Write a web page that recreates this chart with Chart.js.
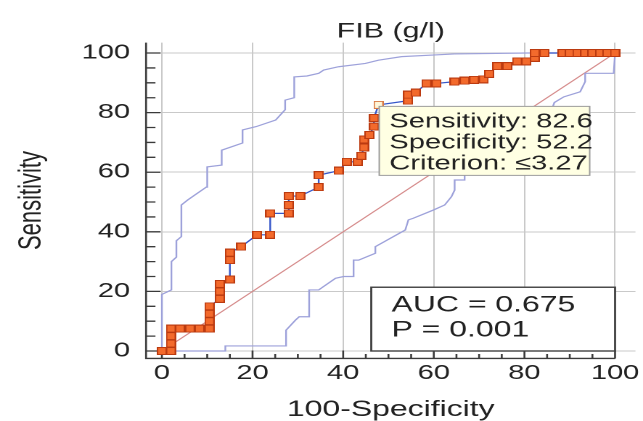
<!DOCTYPE html>
<html><head><meta charset="utf-8">
<script src="https://cdn.jsdelivr.net/npm/chart.js@4.4.1/dist/chart.umd.min.js"></script>
<style>html,body{margin:0;padding:0;background:#fff;overflow:hidden}</style>
</head><body>
<canvas id="c" width="443" height="421" style="width:643px;height:421px;display:block"></canvas>
<script>
// ---------- data ----------
const chartTitle = 'FIB (g/l)';
const xTitle = '100-Specificity';
const yTitle = 'Sensitivity';
const tickValues = [0, 20, 40, 60, 80, 100];

// ROC curve: 100-Specificity (x) and Sensitivity (y)
const rocX = [0,2,2,2,2,4,6.2,8.3,10.5,10.5,10.5,10.5,12.8,12.8,12.8,15,15,15,17.5,21,23.9,23.9,28,28,28,30.5,34.6,34.6,39,40.8,43.2,44,44.6,44.6,45.8,46.8,46.8,47.8,54.3,54.3,56,58.4,60.6,64.6,66.8,68.9,71,72.2,74,76.2,78.4,80.4,82.3,82.3,84.4,88.4,90,91.7,93.4,95,96.7,98.3,100];
const rocY = [0,0,2.5,5,7.5,7.5,7.5,7.5,7.5,10,12.5,15,17.5,20,22.5,24,30.5,33,35,39,39,46.2,46.2,49,52,52,55,59,60.5,63.5,63.5,65.5,68.3,71,72.5,75.3,78.2,82.6,84,86,86.7,89.8,89.8,90.4,90.7,91,91.2,93,95.6,95.6,97.2,97.2,98.4,100,100,100,100,100,100,100,100,100,100];

// 95% confidence bounds
const upperX = [0,0,2.1,2.1,3.2,3.2,4.3,4.3,5.7,9.8,10,13.2,13.2,17.8,17.8,20.8,25.1,27.2,27.2,29.2,29.2,32,34.6,35.7,39,44.9,47.8,52.9,64.6,80.7,100];
const upperY = [0,19,20.5,30,31.5,37,38.4,49,50.7,55,61.8,62.4,67.4,69.8,74.2,75.3,77.5,81,84.2,85,92,92.3,93.2,94.3,95.4,96.5,97.6,98.8,99.7,100,100];
const lowerX = [0,14,14,27.4,27.4,29.5,30.3,32.5,32.5,34.6,38.3,40.1,42.3,42.3,43.4,47.1,47.1,53.7,54.4,55.4,59.9,62.4,63.9,64.6,64.6,66.8,66.8,72,78,81.4,85.8,86.6,88.7,92.3,93.4,93.4,99.7,100];
const lowerY = [0,0,1.7,1.7,7,10.4,11.5,11.5,20.5,20.5,24.4,25,25,30.5,30.5,32.8,35,40.6,44,44.5,47.3,49,51.8,54,57.4,57.4,61.8,66,70,73,80,83.4,85.3,87,90.4,93.2,93.2,100];

// reference diagonal
const diagX = [0, 100];
const diagY = [0, 100];

// selected criterion point and annotation texts
const cutoffX = 47.8;
const cutoffY = 82.6;
const cutoffLines = ['Sensitivity: 82.6', 'Specificity: 52.2', 'Criterion: \u22643.27'];
const aucLines = ['AUC = 0.675', 'P = 0.001'];

// ---------- rendering ----------
const FONT = "'Liberation Sans', Arial, Helvetica, sans-serif";
const TXT = '#222';

function pts(xs, ys) { return xs.map((v, i) => ({x: v, y: ys[i]})); }

function makeMarker(fill, stroke) {
  const c = document.createElement('canvas');
  c.width = 14; c.height = 16;
  const g = c.getContext('2d');
  g.fillStyle = stroke; g.fillRect(0, 0, 14, 16);
  g.fillStyle = fill; g.fillRect(2, 2, 10, 12);
  const img = new Image(7, 8);
  const p = new Promise(res => { img.onload = res; img.onerror = res; });
  img.src = c.toDataURL();
  return {img, p};
}

const mk = makeMarker('#f36a2c', '#bb3a10');
const mkHi = makeMarker('#fff6d8', '#d87a45');
const cutIdx = rocX.findIndex((v, i) => v === cutoffX && rocY[i] === cutoffY);

const fixAxes = {
  id: 'fixAxes',
  beforeDatasetsDraw(chart) {
    const {ctx, chartArea: a, scales: {x, y}} = chart;
    ctx.save();
    ctx.strokeStyle = '#3a3a3a';
    ctx.lineWidth = 1.3;
    ctx.beginPath();
    ctx.moveTo(a.left, a.top);
    ctx.lineTo(a.left, a.bottom);
    ctx.lineTo(x.getPixelForValue(100), a.bottom);
    for (let v = 0; v <= 100; v += 5) {
      const major = v % 20 === 0;
      const py = y.getPixelForValue(v);
      ctx.moveTo(a.left, py); ctx.lineTo(a.left + (major ? 10 : 6.5), py);
      const px = x.getPixelForValue(v);
      ctx.moveTo(px, a.bottom); ctx.lineTo(px, a.bottom - (major ? 8 : 4.5));
    }
    ctx.stroke();
    ctx.restore();
  },
  afterDatasetsDraw(chart) {
    const {ctx, scales: {x, y}} = chart;
    ctx.save();
    // criterion box
    const cx = x.getPixelForValue(cutoffX), cy = y.getPixelForValue(cutoffY);
    const bx = cx + 0.5, by = cy + 1.5, bw = 145, bh = 69;
    ctx.fillStyle = '#ffffe3';
    ctx.fillRect(bx, by, bw, bh);
    ctx.strokeStyle = '#9c9c9c';
    ctx.lineWidth = 1;
    ctx.strokeRect(bx, by, bw, bh);
    ctx.fillStyle = TXT;
    ctx.font = '20px ' + FONT;
    ctx.textAlign = 'left';
    ctx.textBaseline = 'alphabetic';
    cutoffLines.forEach((t, i) => ctx.fillText(t, bx + 7, by + 21 + i * 21));
    // AUC box
    const ax0 = x.getPixelForValue(46.2), ax1 = x.getPixelForValue(100);
    const ay0 = y.getPixelForValue(21.4), ay1 = y.getPixelForValue(0);
    ctx.fillStyle = '#fff';
    ctx.fillRect(ax0, ay0, ax1 - ax0, ay1 - ay0);
    ctx.strokeStyle = '#404040';
    ctx.lineWidth = 1.4;
    ctx.strokeRect(ax0, ay0, ax1 - ax0, ay1 - ay0);
    ctx.fillStyle = TXT;
    ctx.font = '22px ' + FONT;
    aucLines.forEach((t, i) => ctx.fillText(t, ax0 + 14, ay0 + 24.5 + i * 25));
    ctx.restore();
  }
};

Promise.all([mk.p, mkHi.p]).then(() => {
  new Chart(document.getElementById('c'), {
    type: 'scatter',
    data: {
      datasets: [
        {
          label: 'ROC',
          data: pts(rocX, rocY),
          showLine: true,
          borderColor: '#3556c8',
          borderWidth: 1.2,
          pointRadius: 4,
          pointStyle: c => c.dataIndex === cutIdx ? mkHi.img : mk.img,
          tension: 0
        },
        {
          label: 'upper',
          data: pts(upperX, upperY),
          showLine: true,
          borderColor: '#9da1da',
          borderWidth: 1.2,
          pointRadius: 0,
          tension: 0
        },
        {
          label: 'lower',
          data: pts(lowerX, lowerY),
          showLine: true,
          borderColor: '#9da1da',
          borderWidth: 1.2,
          pointRadius: 0,
          tension: 0
        },
        {
          label: 'diag',
          data: pts(diagX, diagY),
          showLine: true,
          borderColor: '#d58a8a',
          borderWidth: 1,
          pointRadius: 0
        }
      ]
    },
    options: {
      responsive: false,
      devicePixelRatio: 2,
      animation: false,
      events: [],
      layout: {padding: {left: 0, right: 3.1, top: 0, bottom: 0}},
      plugins: {
        legend: {display: false},
        tooltip: {enabled: false},
        title: {
          display: true,
          text: chartTitle,
          fullSize: false,
          color: TXT,
          font: {family: FONT, size: 21, weight: 'normal', lineHeight: 1},
          padding: {top: 21.2, bottom: 0.4}
        }
      },
      scales: {
        x: {
          type: 'linear',
          min: -3.5, max: 104.5,
          afterBuildTicks: s => { s.ticks = tickValues.map(v => ({value: v})); },
          afterFit: s => { s.height = 62.55; s.paddingLeft = 0; s.paddingRight = 0; },
          grid: {color: '#c9c9c9', lineWidth: 1, drawTicks: false},
          border: {display: false},
          ticks: {color: TXT, padding: 4.9, font: {family: FONT, size: 20, lineHeight: 1}},
          title: {display: true, text: xTitle, color: TXT,
                  font: {family: FONT, size: 22, lineHeight: 1}, padding: {top: 0, bottom: 0}}
        },
        y: {
          type: 'linear',
          min: -2.5, max: 103.5,
          afterBuildTicks: s => { s.ticks = tickValues.map(v => ({value: v})); },
          afterFit: s => { s.width = 100.6; s.paddingTop = 0; s.paddingBottom = 0; },
          grid: {color: '#c9c9c9', lineWidth: 1, drawTicks: false},
          border: {display: false},
          ticks: {color: TXT, padding: 11, font: {family: FONT, size: 20, lineHeight: 1}},
          title: {display: true, text: yTitle, color: TXT,
                  font: {family: FONT, size: 22, lineHeight: 1}, padding: {top: 11, bottom: 0}}
        }
      }
    },
    plugins: [fixAxes]
  });
});
</script>
</body></html>
